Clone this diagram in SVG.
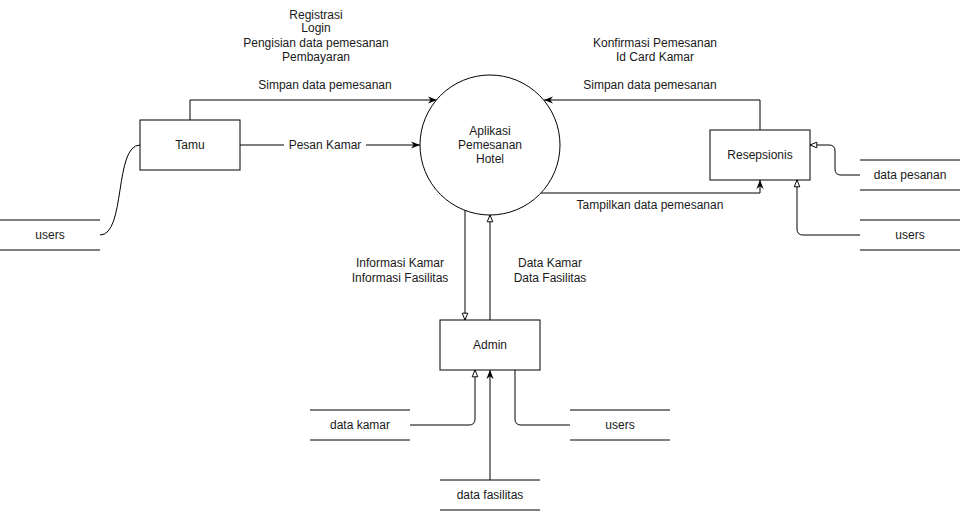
<svg xmlns="http://www.w3.org/2000/svg" width="962" height="511" viewBox="0 0 962 511">
<defs>
<style>
text{font-family:"Liberation Sans",Arial,sans-serif;font-size:12px;fill:#1a1a1a;text-anchor:middle;dominant-baseline:central}
.box{fill:#fff;stroke:#000;stroke-width:1}
.ln{fill:none;stroke:#000;stroke-width:1}
.c{fill:none;stroke:#000;stroke-width:1}
.f{marker-end:url(#filled)}
.o{marker-end:url(#open)}
</style>
<marker id="filled" markerUnits="userSpaceOnUse" viewBox="0 0 10 10" markerWidth="9" markerHeight="9" refX="10" refY="5" orient="auto">
<path d="M0,1 L10,5 L0,9 L3,5 Z" fill="#000"/>
</marker>
<marker id="open" markerUnits="userSpaceOnUse" viewBox="0 0 10 10" markerWidth="8" markerHeight="8" refX="9.5" refY="5" orient="auto">
<path d="M1,1.5 L9.5,5 L1,8.5 Z" fill="#fff" stroke="#000" stroke-width="1.2"/>
</marker>
</defs>
<rect width="962" height="511" fill="#fff"/>

<g id="connectors">
<path class="c f" d="M190,120 V100 H437"/>
<path class="c f" d="M240,145 H420"/>
<rect x="284" y="137" width="82" height="16" fill="#fff"/>
<path class="c" d="M100,235 C126,235 114,145 140,145"/>
<path class="c f" d="M760,130 V100 H544"/>
<path class="c f" d="M541,193 H760 V180"/>
<path class="c o" d="M860,175 H841 Q835,175 835,169 V151 Q835,145 829,145 H810"/>
<path class="c o" d="M860,235 H803 Q797,235 797,229 V180"/>
<path class="c o" d="M465,210 V320"/>
<path class="c o" d="M490,320 V215"/>
<path class="c o" d="M410,425 H469 Q475,425 475,419 V370"/>
<path class="c f" d="M490,480 V370"/>
<path class="c" d="M515,370 V419 Q515,425 521,425 H570"/>
</g>

<g id="labels">
<text x="316" y="15">Registrasi</text>
<text x="316" y="28">Login</text>
<text x="316" y="43">Pengisian data pemesanan</text>
<text x="316" y="57">Pembayaran</text>
<text x="325" y="85">Simpan data pemesanan</text>
<text x="325" y="145">Pesan Kamar</text>
<text x="655" y="43">Konfirmasi Pemesanan</text>
<text x="655" y="57">Id Card Kamar</text>
<text x="650" y="85">Simpan data pemesanan</text>
<text x="650" y="205">Tampilkan data pemesanan</text>
<text x="400" y="263">Informasi Kamar</text>
<text x="400" y="278">Informasi Fasilitas</text>
<text x="550" y="263">Data Kamar</text>
<text x="550" y="278">Data Fasilitas</text>
</g>

<g id="process-aplikasi">
<circle cx="490" cy="145" r="70" class="box"/>
<text x="490" y="131">Aplikasi</text>
<text x="490" y="145">Pemesanan</text>
<text x="490" y="159">Hotel</text>
</g>

<g id="tamu">
<rect x="140" y="120" width="100" height="50" class="box"/>
<text x="190" y="145">Tamu</text>
</g>

<g id="resepsionis">
<rect x="710" y="130" width="100" height="50" class="box"/>
<text x="760" y="155">Resepsionis</text>
</g>

<g id="admin">
<rect x="440" y="320" width="100" height="50" class="box"/>
<text x="490" y="345">Admin</text>
</g>

<g id="store-users-left">
<path class="ln" d="M0,220 H100 M0,250 H100"/>
<text x="50" y="235">users</text>
</g>

<g id="store-data-pesanan">
<path class="ln" d="M860,160 H960 M860,190 H960"/>
<text x="910" y="175">data pesanan</text>
</g>

<g id="store-users-right">
<path class="ln" d="M860,220 H960 M860,250 H960"/>
<text x="910" y="235">users</text>
</g>

<g id="store-data-kamar">
<path class="ln" d="M310,410 H410 M310,440 H410"/>
<text x="360" y="425">data kamar</text>
</g>

<g id="store-users-bottom">
<path class="ln" d="M570,410 H670 M570,440 H670"/>
<text x="620" y="425">users</text>
</g>

<g id="store-data-fasilitas">
<path class="ln" d="M440,480 H540 M440,510 H540"/>
<text x="490" y="495">data fasilitas</text>
</g>
</svg>
